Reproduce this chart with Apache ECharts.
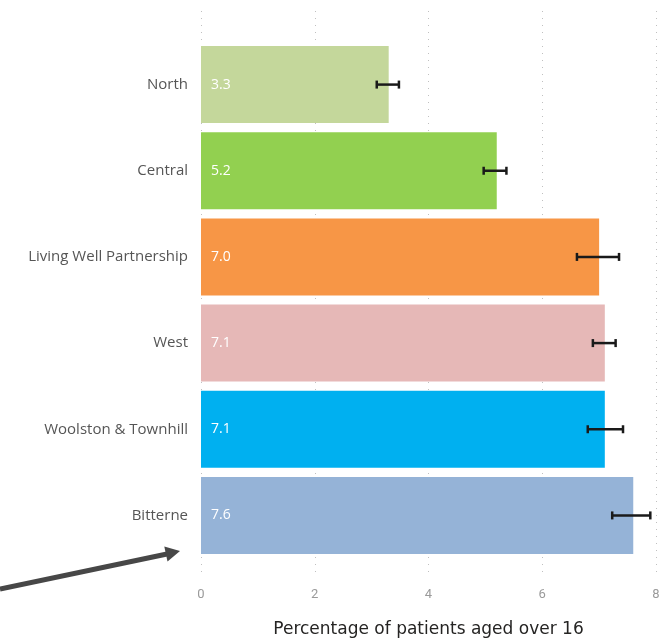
<!DOCTYPE html>
<html><head><meta charset="utf-8">
<script src="https://cdn.jsdelivr.net/npm/echarts@6/dist/echarts.min.js"></script>
<style>html,body{margin:0;padding:0;background:#fff}#c{width:664px;height:643px}</style>
</head><body><div id="c"></div>
<script>
const categories = ["North","Central","Living Well Partnership","West","Woolston & Townhill","Bitterne"];
const values = [3.3, 5.2, 7.0, 7.1, 7.1, 7.6];
const errLow = [3.09, 4.97, 6.61, 6.89, 6.80, 7.23];
const errHigh = [3.48, 5.37, 7.35, 7.29, 7.42, 7.90];
const barColors = ["#c4d79b","#92d050","#f79646","#e6b8b7","#00b0f0","#95b3d7"];
const xTicks = [0, 2, 4, 6, 8];
const axisTitle = "Percentage of patients aged over 16";

const chart = echarts.init(document.getElementById('c'), null, {renderer:'canvas'});
const xMin = xTicks[0], xMax = xTicks[xTicks.length-1], xInt = xTicks[1]-xTicks[0];

chart.setOption({
  animation: false,
  grid: [
    {left: 201, right: 8, top: 11, bottom: 56},
    {left: 201, right: 8, top: 41.5, height: 517}
  ],
  xAxis: [
    {gridIndex: 0, type: 'value', min: xMin, max: xMax, interval: xInt,
     axisLine: {show: false}, axisTick: {show: false},
     axisLabel: {color: '#9a9a9a', fontSize: 13, fontFamily: 'Roboto', margin: 15},
     splitLine: {show: true, lineStyle: {type: [1, 6], color: '#c0c0c0', width: 1}},
     name: axisTitle, nameLocation: 'middle', nameGap: 48,
     nameTextStyle: {color: '#252423', fontSize: 17, fontFamily: 'DejaVu Sans'}},
    {gridIndex: 1, type: 'value', min: xMin, max: xMax, show: false}
  ],
  yAxis: [
    {gridIndex: 0, type: 'category', data: categories, show: false},
    {gridIndex: 1, type: 'category', data: categories, inverse: true,
     axisLine: {show: false}, axisTick: {show: false},
     axisLabel: {color: '#555555', fontSize: 15, fontFamily: 'Open Sans', margin: 13}}
  ],
  series: [
    {type: 'bar', xAxisIndex: 1, yAxisIndex: 1, barWidth: 77,
     data: values.map((v,i)=>({value: v, itemStyle: {color: barColors[i]}})),
     label: {show: true, position: 'insideLeft', distance: 10, color: '#ffffff',
       fontSize: 14, fontFamily: 'Open Sans', formatter: p => p.value.toFixed(1)}},
    {type: 'custom', xAxisIndex: 1, yAxisIndex: 1, z: 5,
     data: categories.map((c,i)=>[i, errLow[i], errHigh[i]]),
     encode: {x: [1,2], y: 0},
     renderItem: function(params, api){
       const i = api.value(0);
       const p1 = api.coord([api.value(1), i]);
       const p2 = api.coord([api.value(2), i]);
       const h = 4;
       const st = {stroke: '#1a1a1a', lineWidth: 2.5};
       return {type: 'group', children: [
         {type: 'line', shape: {x1: p1[0], y1: p1[1], x2: p2[0], y2: p2[1]}, style: st},
         {type: 'line', shape: {x1: p1[0], y1: p1[1]-h, x2: p1[0], y2: p1[1]+h}, style: st},
         {type: 'line', shape: {x1: p2[0], y1: p2[1]-h, x2: p2[0], y2: p2[1]+h}, style: st}
       ]};
     }}
  ],
  graphic: [
    {type: 'line', shape: {x1: 0, y1: 589, x2: 167, y2: 554}, style: {stroke: '#474747', lineWidth: 5}},
    {type: 'polygon', shape: {points: [[180, 551], [167.5, 561.5], [164.3, 546.5]]}, style: {fill: '#474747'}}
  ]
});
</script></body></html>
